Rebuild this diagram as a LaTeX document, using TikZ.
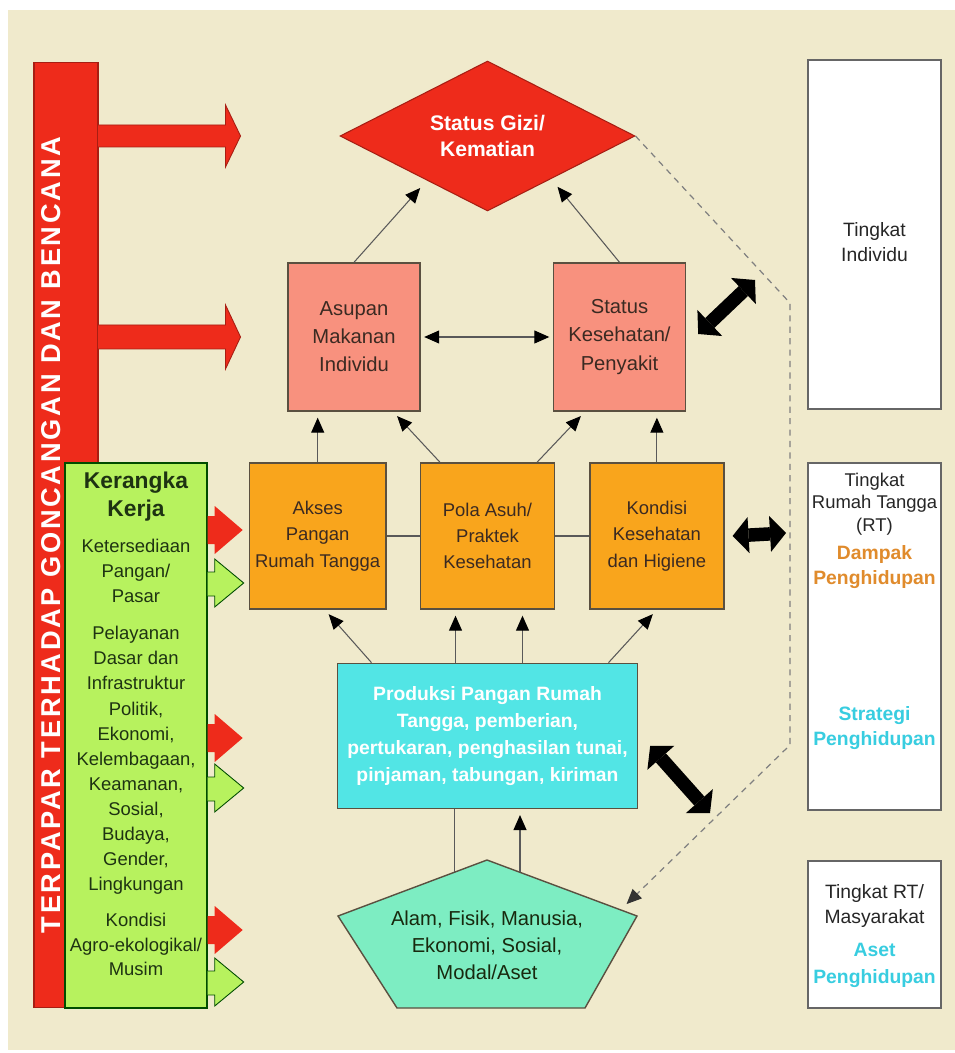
\documentclass[tikz,border=0pt]{standalone}
\usepackage{fontspec}
\setmainfont{Liberation Sans}
\newfontfamily\spacedfont[LetterSpace=10]{Liberation Sans}
\usetikzlibrary{positioning, arrows.meta, shapes.geometric, calc}

\definecolor{bgbeige}{HTML}{F0EACC}
\definecolor{shockred}{HTML}{EE2B1B}
\definecolor{salmon}{HTML}{F8917E}
\definecolor{hhorange}{HTML}{F9A51C}
\definecolor{prodcyan}{HTML}{52E5E5}
\definecolor{assetmint}{HTML}{7DEDC2}
\definecolor{framelime}{HTML}{B7F25E}
\definecolor{darktext}{HTML}{3B2A22}
\definecolor{greentext}{HTML}{1E3312}
\definecolor{impactorange}{HTML}{E08B2C}
\definecolor{strategycyan}{HTML}{38CDE0}
\definecolor{edgegray}{HTML}{5A5040}

\begin{document}
\begin{tikzpicture}[x=0.02cm, y=-0.02cm, thick]
    % Styles
    \tikzstyle{indiv} = [rectangle, draw=edgegray, line width=0.8pt, fill=salmon, minimum width=2.64cm, minimum height=2.96cm, align=center, text=darktext, font=\fontsize{11.5}{16}\selectfont]
    \tikzstyle{house} = [rectangle, draw=edgegray, line width=0.8pt, fill=hhorange, minimum width=2.68cm, minimum height=2.92cm, align=center, text=darktext, font=\fontsize{10.5}{15}\selectfont]
    \tikzstyle{level} = [rectangle, draw=black!60, line width=0.8pt, fill=white, minimum width=2.66cm]
    \tikzstyle{leveltext} = [align=center, text=black!85, inner sep=0pt, font=\fontsize{10.5}{13}\selectfont]
    \tikzstyle{link} = [draw=black!65, line width=0.6pt, -{Triangle[width=0.26cm, length=0.3cm, color=black]}]
    \tikzstyle{plain} = [draw=black!65, line width=0.6pt]
    \tikzstyle{bothlink} = [link, {Triangle[width=0.26cm, length=0.3cm, color=black]}-{Triangle[width=0.26cm, length=0.3cm, color=black]}]
    \tikzstyle{feedback} = [draw=black, line width=0.27cm, {Triangle[width=0.72cm, length=0.32cm, line width=0pt]}-{Triangle[width=0.72cm, length=0.32cm, line width=0pt]}]
    \tikzstyle{bigshock} = [fill=shockred, draw=shockred!70!black, line width=0.5pt]
    \tikzstyle{support} = [fill=framelime, draw=green!30!black, line width=0.5pt]
    \tikzstyle{dashlink} = [draw=black!50, line width=0.7pt, dash pattern=on 3.5pt off 3pt, -{Triangle[width=0.26cm, length=0.3cm, color=black!80]}]

    % Background
    \fill[white] (0,0) rectangle (955,1053);
    \fill[bgbeige] (8,10) rectangle (955,1050);

    % Shock bar
    \node (shockbar) [rectangle, fill=shockred, draw=shockred!70!black, line width=0.6pt, minimum width=1.28cm, minimum height=18.92cm, inner sep=0pt] at (66,535) {};
    \node (shocktitle) [rotate=90, text=white, font=\spacedfont\bfseries\fontsize{15.5}{18}\selectfont] at (51,535) {TERPAPAR TERHADAP GONCANGAN DAN BENCANA};

    % Individual level
    \node (gizi) [diamond, aspect=2, fill=shockred, draw=shockred!70!black, line width=0.6pt, minimum width=5.9cm, minimum height=3cm, inner sep=1pt, align=center, text=white, font=\bfseries\fontsize{12}{15.3}\selectfont] at (487.5,136) {Status Gizi/\\Kematian};
    \node (asupan) [indiv] at (354,337) {Asupan\\Makanan\\Individu};
    \node (status) [indiv] at (619.5,337) {Status\\Kesehatan/\\Penyakit};

    % Household level
    \node (pola) [house] at (487.5,536) {Pola Asuh/\\Praktek\\Kesehatan};
    \node (akses) [house, left=0.66cm of pola] {Akses\\Pangan\\Rumah Tangga};
    \node (kondisi) [house, right=0.68cm of pola] {Kondisi\\Kesehatan\\dan Higiene};
    \node (produksi) [rectangle, draw=edgegray, line width=0.8pt, fill=prodcyan, minimum width=6cm, minimum height=2.9cm, below=1.06cm of pola, align=center, text=white, font=\bfseries\fontsize{11}{15.3}\selectfont] {Produksi Pangan Rumah\\Tangga, pemberian,\\pertukaran, penghasilan tunai,\\pinjaman, tabungan, kiriman};

    % Assets
    \coordinate (aset-top) at (487,860);
    \coordinate (aset-right) at (637,916);
    \coordinate (aset-br) at (585,1008);
    \coordinate (aset-bl) at (397,1008);
    \coordinate (aset-left) at (338,916);
    \filldraw[fill=assetmint, draw=edgegray, line width=0.8pt] (aset-top) -- (aset-right) -- (aset-br) -- (aset-bl) -- (aset-left) -- cycle;
    \node (aset) [align=center, text=greentext!80!black, font=\fontsize{11.5}{15.5}\selectfont] at (487,945) {Alam, Fisik, Manusia,\\Ekonomi, Sosial,\\Modal/Aset};

    % Framework box
    \node (kerangka) [rectangle, fill=framelime, draw=green!30!black, line width=0.8pt, minimum width=2.84cm, minimum height=10.9cm, inner sep=0pt] at (136,735.5) {};
    \node (kerangkatext) [anchor=north, align=center, inner sep=0pt, text=greentext, font=\fontsize{10.5}{14.2}\selectfont] at (136,471) {{\bfseries\fontsize{13}{15}\selectfont Kerangka}\\[2pt]{\bfseries\fontsize{13}{15}\selectfont Kerja}\\[6pt]Ketersediaan\\Pangan/\\Pasar\\[7pt]Pelayanan\\Dasar dan\\Infrastruktur\\[1pt]Politik,\\Ekonomi,\\Kelembagaan,\\Keamanan,\\Sosial,\\Budaya,\\Gender,\\Lingkungan\\[6pt]Kondisi\\Agro-ekologikal/\\Musim};

    % Level boxes
    \node (lvlind) [level, minimum height=6.98cm] at (874.5,234.5) {};
    \node (lvlindtext) [leveltext, font=\fontsize{11}{14}\selectfont] at (lvlind.center |- 0,242) {Tingkat\\Individu};
    \node (lvlrt) [level, minimum height=6.94cm] at (874.5,636.5) {};
    \node (lvlrttext) [leveltext, anchor=north] at (lvlrt.center |- 0,472) {Tingkat\\Rumah Tangga\\(RT)\\[3pt]\textcolor{impactorange}{\bfseries\fontsize{11}{13}\selectfont Dampak}\\[1pt]\textcolor{impactorange}{\bfseries\fontsize{11}{13}\selectfont Penghidupan}};
    \node (lvlrtstrat) [leveltext, text=strategycyan, font=\bfseries\fontsize{11}{14.5}\selectfont] at (lvlrt.center |- 0,728) {Strategi\\Penghidupan};
    \node (lvlcom) [level, minimum height=2.94cm] at (874.5,934.5) {};
    \node (lvlcomtext) [leveltext, font=\fontsize{11}{14}\selectfont] at (lvlcom.center |- 0,936) {Tingkat RT/\\Masyarakat\\[5pt]\textcolor{strategycyan}{\bfseries Aset}\\[1pt]\textcolor{strategycyan}{\bfseries Penghidupan}};

    % Shock arrows
    \coordinate (hitgizi) at (shockbar.east |- gizi.west);
    \coordinate (hitasupan) at (shockbar.east |- asupan.west);
    \filldraw[bigshock] (hitgizi) ++(-1,-11) -- ++(128,0) -- ++(0,-20) -- ++(15,31) -- ++(-15,31) -- ++(0,-20) -- ++(-128,0) -- cycle;
    \filldraw[bigshock] (hitasupan) ++(-1,-12) -- ++(128,0) -- ++(0,-20) -- ++(15,32) -- ++(-15,32) -- ++(0,-20) -- ++(-128,0) -- cycle;

    % Framework arrows
    \foreach \ry/\gy in {530/583, 738/788, 930/982} {
        \fill[shockred] (kerangka.east |- 0,\ry) ++(0,-14) -- ++(7,0) -- ++(0,-10) -- ++(28,24) -- ++(-28,24) -- ++(0,-10) -- ++(-7,0) -- cycle;
        \filldraw[fill=white, draw=green!30!black, line width=0.5pt] (kerangka.east |- 0,\ry) ++(0,15) rectangle (kerangka.east |- 0,\gy) ++(7,-11);
        \filldraw[support] (kerangka.east |- 0,\gy) ++(0,-11) -- ++(7,0) -- ++(0,-13) -- ++(29,24) -- ++(-29,24) -- ++(0,-11) -- ++(-7,0);
    }

    % Individual links
    \draw [link, shorten >=0.2cm] (asupan.north) -- ($(gizi.west)!0.59!(gizi.south)$);
    \draw [link, shorten >=0.2cm] (status.north) -- ($(gizi.east)!0.57!(gizi.south)$);
    \draw [bothlink, shorten <=2pt, shorten >=2pt] (asupan.east) -- (status.west);

    % Household links
    \draw [plain] (akses.east) -- (pola.west);
    \draw [plain] (pola.east) -- (kondisi.west);
    \draw [link, shorten >=0.12cm] (akses.north) -- (akses.north |- asupan.south);
    \draw [link, shorten >=0.12cm] ([xshift=-0.95cm]pola.north) -- ([xshift=0.78cm]asupan.south);
    \draw [link, shorten >=0.12cm] ([xshift=0.99cm]pola.north) -- ([xshift=-0.69cm]status.south);
    \draw [link, shorten >=0.12cm] (kondisi.north) -- (kondisi.north |- status.south);

    % Production links
    \draw [link, shorten >=0.12cm] ([xshift=-2.32cm]produksi.north) -- ([xshift=0.14cm]akses.south);
    \draw [link, shorten >=0.12cm] ([xshift=-0.64cm]produksi.north) -- ([xshift=-0.64cm]produksi.north |- pola.south);
    \draw [link, shorten >=0.12cm] ([xshift=0.7cm]produksi.north) -- ([xshift=0.7cm]produksi.north |- pola.south);
    \draw [link, shorten >=0.12cm] ([xshift=2.42cm]produksi.north) -- (kondisi.south);

    % Asset links
    \coordinate (asetA) at ($(aset-left)!0.78!(aset-top)$);
    \coordinate (asetB) at ($(aset-top)!0.22!(aset-right)$);
    \draw [plain] (asetA) -- (asetA |- produksi.south);
    \draw [link, shorten >=0.12cm] (asetB) -- (asetB |- produksi.south);

    % Feedback arrows
    \coordinate (indivlink) at (755,280);
    \coordinate (rtlink) at (786,533);
    \coordinate (asetlink) at (710,813);
    \draw [feedback] ([shift={(12,-3)}]status.east) -- (indivlink);
    \draw [feedback] ([xshift=0.16cm]kondisi.east) -- (rtlink);
    \draw [feedback] ([shift={(12,10)}]produksi.east) -- (asetlink);

    % Level boundary
    \coordinate (bend1) at (790,303);
    \coordinate (bend2) at (790,745);
    \draw [dashlink] (gizi.east) -- (bend1) -- (bend2) -- ($(aset-top)!0.93!(aset-right)+(0,-8)$);

\end{tikzpicture}
\end{document}
